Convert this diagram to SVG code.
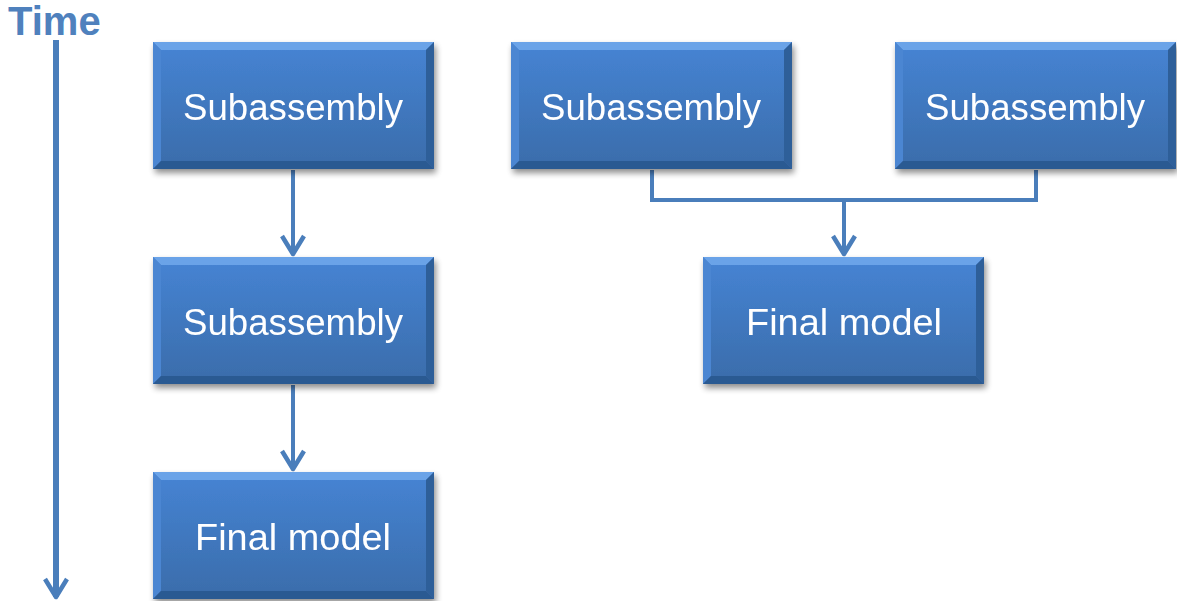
<svg xmlns="http://www.w3.org/2000/svg" width="1177" height="601" viewBox="0 0 1177 601">
<style>
.lbl{font-family:"Liberation Sans",Arial,sans-serif;font-size:37px;fill:#fff;text-anchor:middle}
.face{fill:url(#gFace)}
.bt{fill:#6FA6EA;opacity:.9}
.bl{fill:#4B86D2}
.br{fill:#2F5F99}
.bb{fill:#2C5A92}
.conn{fill:none;stroke:#4A7EBB;stroke-width:4}
.time{font-family:"Liberation Sans",Arial,sans-serif;font-weight:bold;font-size:40px;fill:#4F81BD}
</style>
<defs>
<linearGradient id="gFace" x1="0" y1="0" x2="0" y2="1">
<stop offset="0" stop-color="#4684D4"/>
<stop offset="1" stop-color="#3A6CAA"/>
</linearGradient>
<filter id="sh" x="-5%" y="-5%" width="112%" height="120%">
<feGaussianBlur in="SourceAlpha" stdDeviation="3"/>
<feOffset dx="2" dy="4"/>
<feComponentTransfer><feFuncA type="linear" slope="0.45"/></feComponentTransfer>
<feMerge><feMergeNode/><feMergeNode in="SourceGraphic"/></feMerge>
</filter>
<marker id="ah" markerWidth="24" markerHeight="26" viewBox="0 0 24 26" refX="21" refY="13" orient="auto" markerUnits="userSpaceOnUse">
<path d="M3,2 L21,13 L3,24" fill="none" stroke="#4A7EBB" stroke-width="4.5" stroke-linejoin="round"/>
</marker>
<g id="box">
<rect x="0" y="0" width="281" height="127" class="face"/>
<polygon points="0,0 281,0 273,8 8,8" class="bt"/>
<polygon points="0,0 8,8 8,119 0,127" class="bl"/>
<polygon points="281,0 281,127 273,119 273,8" class="br"/>
<polygon points="0,127 8,119 273,119 281,127" class="bb"/>
</g>
</defs>
<text class="time" x="8" y="35">Time</text>
<g id="connectors">
<line class="conn" style="stroke-width:6" x1="56" y1="40" x2="56" y2="597" marker-end="url(#ah)"/>
<line class="conn" x1="293" y1="170" x2="293" y2="254" marker-end="url(#ah)"/>
<line class="conn" x1="293" y1="385" x2="293" y2="469" marker-end="url(#ah)"/>
<polyline class="conn" points="652,170 652,200 1036,200 1036,170"/>
<line class="conn" x1="844" y1="200" x2="844" y2="254" marker-end="url(#ah)"/>
</g>
<g id="n1" filter="url(#sh)"><use href="#box" x="153" y="42"/><text class="lbl" x="293" y="120" textLength="220" lengthAdjust="spacingAndGlyphs">Subassembly</text></g>
<g id="n2" filter="url(#sh)"><use href="#box" x="153" y="257"/><text class="lbl" x="293" y="335" textLength="220" lengthAdjust="spacingAndGlyphs">Subassembly</text></g>
<g id="n3" filter="url(#sh)"><use href="#box" x="153" y="472"/><text class="lbl" x="293" y="550" textLength="196" lengthAdjust="spacingAndGlyphs">Final model</text></g>
<g id="n4" filter="url(#sh)"><use href="#box" x="511" y="42"/><text class="lbl" x="651" y="120" textLength="220" lengthAdjust="spacingAndGlyphs">Subassembly</text></g>
<g id="n5" filter="url(#sh)"><use href="#box" x="895" y="42"/><text class="lbl" x="1035" y="120" textLength="220" lengthAdjust="spacingAndGlyphs">Subassembly</text></g>
<g id="n6" filter="url(#sh)"><use href="#box" x="703" y="257"/><text class="lbl" x="844" y="335" textLength="196" lengthAdjust="spacingAndGlyphs">Final model</text></g>
</svg>
